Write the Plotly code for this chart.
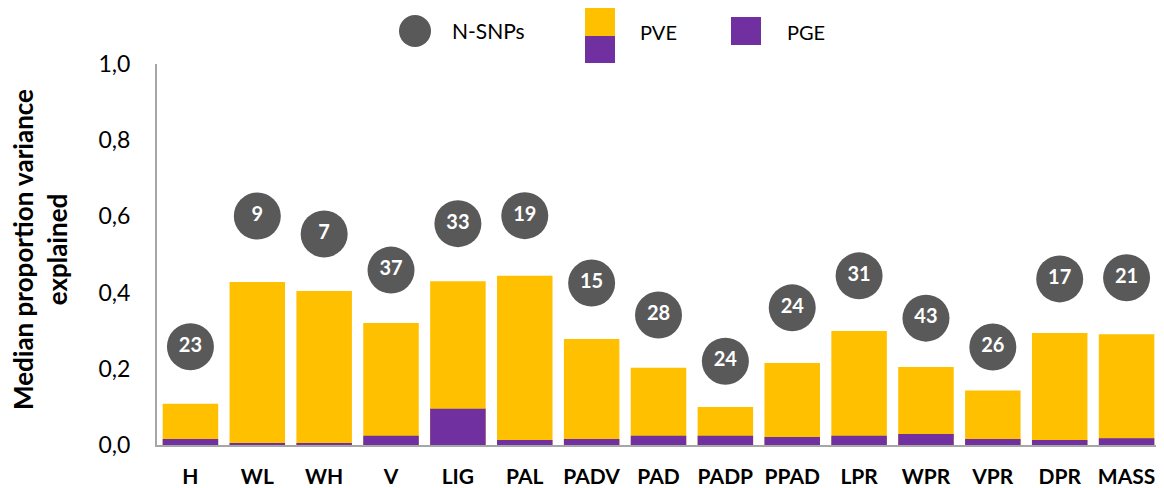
import plotly.graph_objects as go

categories = ["H", "WL", "WH", "V", "LIG", "PAL", "PADV", "PAD", "PADP", "PPAD",
              "LPR", "WPR", "VPR", "DPR", "MASS"]
pve = [0.108, 0.428, 0.404, 0.320, 0.430, 0.444, 0.278, 0.203, 0.100, 0.215,
       0.299, 0.205, 0.143, 0.294, 0.291]
pge = [0.016, 0.005, 0.005, 0.024, 0.095, 0.013, 0.016, 0.024, 0.024, 0.021,
       0.024, 0.029, 0.016, 0.013, 0.018]
nsnps = [23, 9, 7, 37, 33, 19, 15, 28, 24, 24, 31, 43, 26, 17, 21]
nsnp_y = [0.258, 0.601, 0.554, 0.459, 0.581, 0.602, 0.425, 0.341, 0.220, 0.360,
          0.444, 0.333, 0.257, 0.436, 0.439]

YELLOW = "#FFC000"
PURPLE = "#7030A0"
GREY = "#595959"
FONT = "Lato"

OFF = 8  # default page body margin
W, H = 1164 - OFF, 488 - OFF
ML, MR, MT, MB = 157 - OFF, 4, 64 - OFF, 43
PW, PH = W - ML - MR, H - MT - MB


def px(x):
    # reference screen pixel -> paper x
    return (x - OFF - ML) / PW


def py(y):
    # reference screen pixel -> paper y
    return (H - MB - (y - OFF)) / PH


fig = go.Figure()
fig.add_trace(go.Bar(x=categories, y=pve, marker=dict(color=YELLOW, line=dict(width=0)),
                     name="PVE", showlegend=False))
fig.add_trace(go.Bar(x=categories, y=pge, marker=dict(color=PURPLE, line=dict(width=0)),
                     name="PGE", showlegend=False))
fig.add_trace(go.Scatter(x=categories, y=nsnp_y, mode="markers+text",
                         text=[str(n) for n in nsnps], textposition="middle center",
                         textfont=dict(color="white", size=20, family=FONT, weight="bold"),
                         marker=dict(size=47, color=GREY, line=dict(width=0)),
                         name="N-SNPs", showlegend=False, cliponaxis=False))

shapes = [
    dict(type="circle", xref="paper", yref="paper", x0=px(399), x1=px(431), y0=py(47), y1=py(15),
         fillcolor=GREY, line=dict(width=0)),
    dict(type="rect", xref="paper", yref="paper", x0=px(585), x1=px(615), y0=py(36), y1=py(7),
         fillcolor=YELLOW, line=dict(width=0)),
    dict(type="rect", xref="paper", yref="paper", x0=px(585), x1=px(615), y0=py(63), y1=py(36),
         fillcolor=PURPLE, line=dict(width=0)),
    dict(type="rect", xref="paper", yref="paper", x0=px(731), x1=px(761), y0=py(45), y1=py(17),
         fillcolor=PURPLE, line=dict(width=0)),
]
annotations = [
    dict(text="N-SNPs", x=px(450), y=py(31), xref="paper", yref="paper", xanchor="left",
         yanchor="middle", showarrow=False, font=dict(size=21, family=FONT, color="black")),
    dict(text="PVE", x=px(638), y=py(32), xref="paper", yref="paper", xanchor="left",
         yanchor="middle", showarrow=False, font=dict(size=20, family=FONT, color="black")),
    dict(text="PGE", x=px(785), y=py(32), xref="paper", yref="paper", xanchor="left",
         yanchor="middle", showarrow=False, font=dict(size=20, family=FONT, color="black")),
    dict(text="Median proportion variance<br>explained", x=px(40), y=py(250),
         xref="paper", yref="paper", xanchor="center", yanchor="middle", textangle=-90,
         showarrow=False, font=dict(size=26, family=FONT, weight="bold", color="black")),
]

fig.update_layout(
    width=W, height=H, autosize=False,
    margin=dict(l=ML, r=MR, t=MT, b=MB, pad=0),
    paper_bgcolor="white", plot_bgcolor="white",
    barmode="overlay", bargap=0.17,
    separators=", ",
    font=dict(family=FONT, color="black"),
    shapes=shapes, annotations=annotations,
    showlegend=False,
)
fig.update_xaxes(range=[-0.5, len(categories) - 0.5], showline=True, linecolor="#A6A6A6",
                 linewidth=2, showgrid=False,
                 ticks="", tickfont=dict(size=21, family=FONT, weight="bold", color="black"),
                 ticklabelstandoff=12, zeroline=False, automargin=False)
fig.update_yaxes(range=[0, 1.0], tickvals=[0, 0.2, 0.4, 0.6, 0.8, 1.0], tickformat=".1f",
                 showline=True, linecolor="#A6A6A6", linewidth=2, showgrid=False,
                 zeroline=False, ticks="", ticklabelstandoff=20, automargin=False,
                 tickfont=dict(size=23, family=FONT, color="black"))

fig.write_html("out.html")
